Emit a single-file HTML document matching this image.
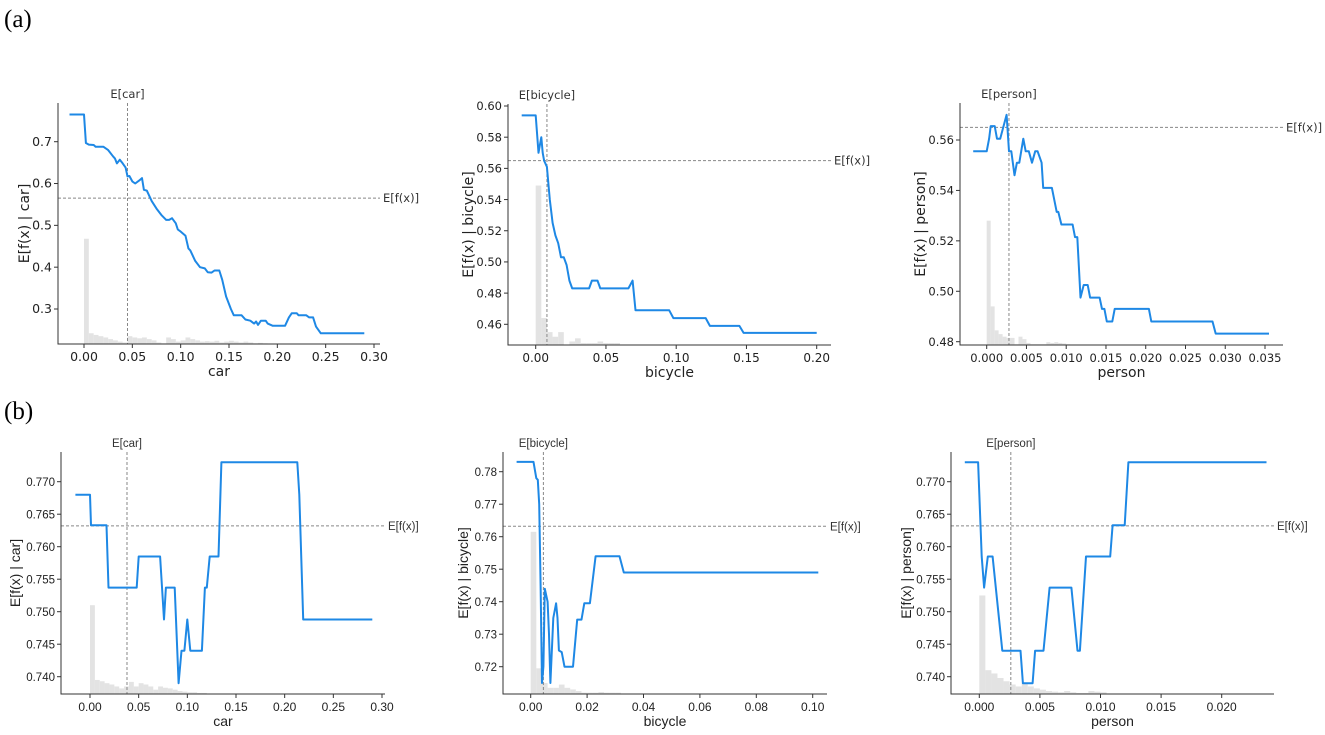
<!DOCTYPE html>
<html><head><meta charset="utf-8">
<style>
body{margin:0;background:#fff;}
svg{display:block;font-family:"DejaVu Sans","Liberation Sans",sans-serif;}
</style></head>
<body>
<svg id="fig" width="1325" height="735" viewBox="0 0 1325 735">
<text x="4" y="27" font-family="Liberation Serif, serif" font-size="25">(a)</text>
<text x="4" y="419" font-family="Liberation Serif, serif" font-size="25">(b)</text>
</svg>
<script>
// ---- data: panel a-car ----
const p1X=[-0.015,0,0.002,0.005,0.01,0.012,0.02,0.025,0.03,0.032,0.034,0.037,0.04,0.043,0.045,0.047,0.05,0.053,0.057,0.06,0.062,0.065,0.07,0.075,0.08,0.085,0.088,0.091,0.095,0.097,0.1,0.105,0.108,0.11,0.115,0.12,0.125,0.128,0.132,0.135,0.14,0.143,0.147,0.152,0.155,0.163,0.167,0.172,0.176,0.178,0.18,0.183,0.188,0.19,0.195,0.208,0.212,0.215,0.22,0.222,0.23,0.233,0.237,0.24,0.245,0.29];
const p1Y=[0.765,0.765,0.697,0.693,0.692,0.688,0.688,0.68,0.665,0.66,0.648,0.657,0.648,0.638,0.617,0.618,0.605,0.6,0.607,0.613,0.585,0.583,0.558,0.54,0.525,0.513,0.513,0.517,0.505,0.49,0.485,0.475,0.445,0.44,0.415,0.4,0.397,0.388,0.387,0.392,0.392,0.37,0.33,0.3,0.285,0.285,0.275,0.272,0.265,0.27,0.262,0.272,0.272,0.265,0.26,0.26,0.28,0.29,0.29,0.285,0.285,0.28,0.28,0.258,0.242,0.242];
const p1HistY=[0.468,0.242,0.238,0.235,0.232,0.228,0.225,0.222,0.22,0.235,0.232,0.23,0.232,0.228,0.225,0.22,0.218,0.232,0.228,0.222,0.225,0.232,0.228,0.225,0.222,0.223,0.222,0.224,0.22,0.222,0.224,0.222,0.22,0.222,0.22,0.218,0.219,0.218,0.217,0.217];
const p1Ticks=["0.00","0.05","0.10","0.15","0.20","0.25","0.30"];
const p1YTicks=["0.3","0.4","0.5","0.6","0.7"];
// ---- panel a-bicycle ----
const p2X=[-0.01,0,0.002,0.003,0.004,0.005,0.006,0.008,0.01,0.012,0.014,0.016,0.018,0.02,0.022,0.024,0.026,0.038,0.04,0.044,0.046,0.066,0.069,0.071,0.095,0.098,0.121,0.124,0.145,0.148,0.2];
const p2Y=[0.594,0.594,0.57,0.575,0.58,0.57,0.565,0.561,0.54,0.525,0.517,0.512,0.503,0.503,0.498,0.488,0.483,0.483,0.488,0.488,0.483,0.483,0.488,0.469,0.469,0.464,0.464,0.459,0.459,0.4545,0.4545];
const p2HistY=[0.549,0.464,0.455,0.452,0.455,0.447,0.449,0.451,0.448,0.448,0.448,0.449,0.448,0.448,0.448,0.447];
const p2Ticks=["0.00","0.05","0.10","0.15","0.20"];
const p2YTicks=["0.46","0.48","0.50","0.52","0.54","0.56","0.58","0.60"];
// ---- panel a-person ----
const p3X=[-0.0017,0,0.0003,0.0005,0.001,0.0013,0.0017,0.0025,0.0028,0.0031,0.0035,0.0038,0.0041,0.0046,0.0049,0.0053,0.0057,0.0061,0.0064,0.0069,0.0071,0.0082,0.0088,0.009,0.0094,0.0108,0.0111,0.0114,0.0118,0.0122,0.0127,0.013,0.0142,0.0145,0.0148,0.0151,0.0158,0.0161,0.0204,0.0207,0.0284,0.0288,0.0355];
const p3Y=[0.5555,0.5555,0.5605,0.5655,0.5655,0.5605,0.5605,0.57,0.5555,0.5555,0.546,0.551,0.551,0.5605,0.5555,0.5555,0.551,0.5555,0.5555,0.551,0.541,0.541,0.5315,0.5315,0.5265,0.5265,0.5215,0.5215,0.4975,0.5025,0.5025,0.4975,0.4975,0.493,0.493,0.488,0.488,0.493,0.493,0.488,0.488,0.4832,0.4832];
const p3HistY=[0.528,0.494,0.4845,0.483,0.482,0.4815,0.4815,0.479,0.482,0.481,0.4795,0.479,0.479,0.479,0.479,0.4798,0.4795,0.4798,0.4795,0.4793,0.479];
const p3Ticks=["0.000","0.005","0.010","0.015","0.020","0.025","0.030","0.035"];
const p3YTicks=["0.48","0.50","0.52","0.54","0.56"];
// ---- panel b-car ----
const p4X=[-0.015,0,0.001,0.017,0.019,0.048,0.05,0.072,0.076,0.078,0.087,0.091,0.094,0.097,0.1,0.103,0.115,0.118,0.12,0.123,0.132,0.135,0.213,0.215,0.219,0.29];
const p4Y=[0.768,0.768,0.7633,0.7633,0.7537,0.7537,0.7585,0.7585,0.7488,0.7537,0.7537,0.739,0.744,0.744,0.7488,0.744,0.744,0.7537,0.7537,0.7585,0.7585,0.773,0.773,0.768,0.7488,0.7488];
const p4HistY=[0.751,0.7395,0.7393,0.739,0.7388,0.7385,0.7382,0.7385,0.7392,0.7385,0.739,0.7388,0.7385,0.738,0.7385,0.7383,0.7382,0.738,0.7378,0.7377,0.7376,0.7376,0.7375,0.7375];
const p4Ticks=["0.00","0.05","0.10","0.15","0.20","0.25","0.30"];
const p4YTicks=["0.740","0.745","0.750","0.755","0.760","0.765","0.770"];
// ---- panel b-bicycle ----
const p5X=[-0.005,0.001,0.002,0.0025,0.003,0.0035,0.004,0.0045,0.005,0.006,0.0065,0.007,0.008,0.009,0.0095,0.01,0.011,0.012,0.015,0.0165,0.018,0.019,0.021,0.023,0.0315,0.033,0.102];
const p5Y=[0.783,0.783,0.778,0.7775,0.77,0.745,0.715,0.72,0.744,0.74,0.73,0.715,0.735,0.7395,0.735,0.725,0.7245,0.72,0.72,0.7345,0.7345,0.7395,0.7395,0.754,0.754,0.749,0.749];
const p5HistY=[0.7615,0.7195,0.715,0.7135,0.7135,0.7145,0.7135,0.713,0.7125,0.712,0.712,0.712,0.7122,0.712,0.712,0.712];
const p5Ticks=["0.00","0.02","0.04","0.06","0.08","0.10"];
const p5YTicks=["0.72","0.73","0.74","0.75","0.76","0.77","0.78"];
// ---- panel b-person ----
const p6X=[-0.0012,-0.0001,0.0002,0.0004,0.0007,0.0011,0.0019,0.0034,0.0036,0.0044,0.0046,0.0053,0.0058,0.0076,0.0081,0.0083,0.0088,0.0108,0.011,0.012,0.0123,0.0237];
const p6Y=[0.773,0.773,0.7585,0.7537,0.7585,0.7585,0.744,0.744,0.739,0.739,0.744,0.744,0.7537,0.7537,0.744,0.744,0.7585,0.7585,0.7633,0.7633,0.773,0.773];
const p6HistY=[0.7525,0.741,0.7405,0.7398,0.7393,0.7388,0.7385,0.739,0.7385,0.7382,0.738,0.7378,0.7377,0.7376,0.7378,0.7376,0.7375,0.7375,0.7378,0.7377,0.7376];
const p6Ticks=["0.000","0.005","0.010","0.015","0.020"];
const p6YTicks=["0.740","0.745","0.750","0.755","0.760","0.765","0.770"];
// expected values
const expX=[0.045,0.008,0.0028,0.038,0.0045,0.0026];
const expF=[0.565,0.565,0.565,0.7632,0.7632,0.7632];
const feat=["car","bicycle","person","car","bicycle","person"];
const binW=[0.005,0.004,0.0005,0.005,0.002,0.0005];

// layout calibration (pixel geometry / styling, not data)
const layout=[
 {L:58,R:380,T:103,B:344,yc:24,fam:'DejaVu Sans',yf:12.5,xf:12.5,xa:[0,84,0.3,374],ya:[0.7,141.7,0.3,309]},
 {L:508,R:831,T:104,B:345,yc:468,fam:'DejaVu Sans',yf:11.5,xf:12,xa:[0,535.7,0.2,816.7],ya:[0.6,106,0.46,324.3]},
 {L:960,R:1283,T:103,B:345,yc:920,fam:'DejaVu Sans',yf:11.5,xf:11.5,xa:[0,986.7,0.035,1265],ya:[0.56,140,0.48,341.7]},
 {L:61,R:385,T:452,B:694,yc:15,fam:'Liberation Sans',yf:11.5,xf:12,xa:[0,90,0.3,382],ya:[0.77,481.7,0.74,676.7]},
 {L:503,R:827,T:452,B:694,yc:463,fam:'Liberation Sans',yf:11.5,xf:12,xa:[0,530.7,0.1,812.7],ya:[0.78,471.7,0.72,666.7]},
 {L:951,R:1274,T:452,B:694,yc:906,fam:'Liberation Sans',yf:11.5,xf:12,xa:[0,979.3,0.02,1221.7],ya:[0.77,481.7,0.74,676.7]}
];
const XS=[p1X,p2X,p3X,p4X,p5X,p6X],YS=[p1Y,p2Y,p3Y,p4Y,p5Y,p6Y],HS=[p1HistY,p2HistY,p3HistY,p4HistY,p5HistY,p6HistY];
const XT=[p1Ticks,p2Ticks,p3Ticks,p4Ticks,p5Ticks,p6Ticks],YT=[p1YTicks,p2YTicks,p3YTicks,p4YTicks,p5YTicks,p6YTicks];
const NS="http://www.w3.org/2000/svg";
const svg=document.getElementById('fig');
function mk(tag,attrs,parent){const e=document.createElementNS(NS,tag);for(const k in attrs)e.setAttribute(k,attrs[k]);(parent||svg).appendChild(e);return e;}
for(let p=0;p<6;p++){
 const g=layout[p];
 const sx=v=>g.xa[1]+(v-g.xa[0])*(g.xa[3]-g.xa[1])/(g.xa[2]-g.xa[0]);
 const sy=v=>g.ya[1]+(v-g.ya[0])*(g.ya[3]-g.ya[1])/(g.ya[2]-g.ya[0]);
 const grp=mk('g',{'font-family':g.fam+', sans-serif'});
 
 
 HS[p].forEach((h,i)=>{
  const x0=sx(i*binW[p]),x1=sx((i+1)*binW[p]);const y=Math.min(sy(h),g.B);
  const r=mk('rect',{x:x0,y:y,width:Math.max(0.5,x1-x0),height:g.B-y,fill:'#dcdcdc',opacity:0.8},grp);
  
  
 });
 const vx=sx(expX[p]);
 const vl=mk('line',{x1:vx,x2:vx,y1:g.T,y2:g.B,stroke:'#888','stroke-width':1,'stroke-dasharray':'3,2'},grp);
 
 
 const hy=sy(expF[p]);
 const hl=mk('line',{x1:g.L,x2:g.R,y1:hy,y2:hy,stroke:'#888','stroke-width':1,'stroke-dasharray':'3,2'},grp);
 
 
 const t1=mk('text',{x:vx,y:g.T-5,'font-size':11.5,'text-anchor':'middle',fill:'#333'},grp);t1.textContent='E['+feat[p]+']';
 
 
 const t2=mk('text',{x:g.R+3,y:hy+4,'font-size':11.5,fill:'#333'},grp);t2.textContent='E[f(x)]';
 
 
 const pts=XS[p].map((x,i)=>sx(x).toFixed(1)+','+sy(YS[p][i]).toFixed(1)).join(' ');
 const pl=mk('polyline',{points:pts,fill:'none',stroke:'#1e88e5','stroke-width':2,'stroke-linejoin':'round'},grp);
 
 
 const ax=mk('path',{d:`M${g.L},${g.T}V${g.B}H${g.R}`,fill:'none',stroke:'#333','stroke-width':1},grp);
 
 
 XT[p].forEach(t=>{const x=sx(parseFloat(t));
  mk('line',{x1:x,x2:x,y1:g.B,y2:g.B+4,stroke:'#333'},grp);
  const tx=mk('text',{x:x,y:g.B+17,'font-size':g.xf,'text-anchor':'middle',fill:'#222'},grp);tx.textContent=t;
  
  
 });
 YT[p].forEach(t=>{const y=sy(parseFloat(t));
  mk('line',{x1:g.L-4,x2:g.L,y1:y,y2:y,stroke:'#333'},grp);
  const ty=mk('text',{x:g.L-6,y:y+4.2,'font-size':g.yf,'text-anchor':'end',fill:'#222'},grp);ty.textContent=t;
  
  
 });
 const xt=mk('text',{x:(g.L+g.R)/2,y:g.B+32,'font-size':14,'text-anchor':'middle',fill:'#222'},grp);xt.textContent=feat[p];
 
 
 const cy=(g.T+g.B)/2,cx=g.yc+5;
 const yt=mk('text',{x:cx,y:cy,'font-size':14,'text-anchor':'middle',fill:'#222',transform:`rotate(-90 ${cx} ${cy})`},grp);yt.textContent='E[f(x) | '+feat[p]+']';
 
 
}
</script>
</body></html>
